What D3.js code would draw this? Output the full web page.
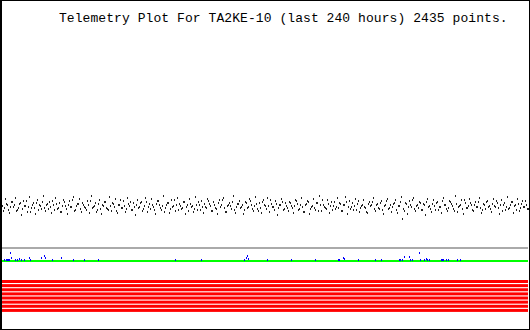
<!DOCTYPE html>
<html>
<head>
<meta charset="utf-8">
<script src="https://cdn.jsdelivr.net/npm/d3@7"></script>
<style>
  body { margin: 0; background: #fff; }
  svg { display: block; }
</style>
</head>
<body>
<div id="chart"></div>
<script>
const title = "Telemetry Plot For TA2KE-10 (last 240 hours) 2435 points.";

// analog channel 1 (black), samples on even columns, units on 0..240 scale
const chanA = [
  56,54,58,52,55,60,57,51,54,59,53,56,61,55,50,57,54,59,52,56,60,54,57,53,
  55,61,52,58,54,50,56,60,53,57,55,62,51,56,58,53,59,55,52,57,61,54,56,50,
  58,53,57,60,54,52,56,59,55,51,57,62,54,56,53,58,60,52,55,57,54,59,51,56,
  60,55,53,57,52,58,61,54,56,50,57,59,53,55,62,57,52,56,54,60,55,51,58,56,
  53,57,60,52,55,58,54,61,56,51,57,53,59,55,62,54,50,57,56,60,52,55,58,54,
  57,52,59,55,61,53,56,58,51,54,60,57,53,56,62,55,52,58,54,57,60,53,56,51,
  59,54,56,61,52,57,55,50,58,60,53,56,54,59,51,57,62,55,53,58,56,52,60,55,
  54,58,51,57,60,55,53,59,56,52,61,54,57,55,50,58,56,60,53,57,54,59,52,56,
  61,53,57,55,59,52,56,60,43,51,58,55,57,62,53,56,54,59,52,57,60,55,53,58,
  56,59,52,55,61,57,53,54,60,56,51,58,55,57,53,62,54,56,59,52,57,55,60,54,
  52,57,60,55,53,58,56,61,54,57,51,59,55,53,57,60,56,52,58,54,61,55,57,53
];

// second pass of the same channel on odd columns
const chanA2 = [
  51,63,57,49,60,55,64,52,58,47,61,56,50,65,54,59,48,62,57,53,66,51,58,60,
  49,57,64,53,59,50,62,56,48,61,55,65,52,58,63,50,57,54,61,49,66,55,59,52,
  62,48,56,60,53,65,51,58,63,49,57,54,61,50,64,56,52,59,47,62,55,60,53,64,
  50,58,63,55,48,61,57,52,66,54,59,49,62,56,51,64,58,53,60,48,57,63,55,50,
  65,52,57,61,49,55,63,58,51,60,54,48,62,57,64,50,56,59,53,66,49,58,61,55,
  48,60,54,63,57,51,65,53,59,49,62,56,64,50,58,55,61,47,57,63,52,59,54,60,
  56,49,62,58,53,64,50,57,61,48,55,63,52,59,66,51,57,54,62,49,60,56,53,64,
  59,51,57,65,48,61,55,52,63,58,50,56,62,54,49,60,57,64,51,58,53,61,48,57,
  63,54,50,58,62,49,56,65,53,59,48,61,55,64,51,57,60,52,58,47,63,56,50,62,
  52,60,55,49,64,57,51,61,58,53,66,50,56,62,48,59,54,63,57,51,60,55,64,49,
  58,53,61,56,50,63,55,59,48,62,57,52,65,54,60,49,57,63,51,58,55,61,53
];

// analog channel 2 (blue): [hour, value] where it rises above zero
const chanB = [
  [1.0,2],[1.9,2],[2.4,2],[2.8,2],[3.3,2],[3.8,9],[4.2,4],[5.8,2],[6.9,2],
  [7.8,3],[8.7,2],[10.0,2],[12.2,4],[12.7,2],[17.8,4],[19.0,6],[19.6,4],
  [22.7,2],[27.1,4],[32.5,2],[37.3,2],[43.6,2],[79.0,2],[91.0,2],[110.5,2],
  [111.4,4],[111.9,6],[112.4,3],[121.0,2],[132.0,2],[143.0,2],[153.2,2],
  [153.8,2],[155.4,4],[155.9,3],[162.5,2],[170.0,2],[172.9,2],[181.0,2],
  [181.8,2],[182.5,2],[183.6,5],[185.6,5],[186.2,2],[187.3,2],[190.4,9],
  [190.8,2],[192.4,2],[193.3,3],[193.8,2],[195.0,2],[200.3,2],[200.8,2],
  [201.4,2],[202.4,2],[203.7,2],[207.5,2],[208.8,2]
];

const greyLevel = 13;   // reference level
const greenLevel = 0;   // baseline
const bits = ["b7","b6","b5","b4","b3","b2","b1","b0"];

const W = 530, H = 330;
const svg = d3.select("#chart").append("svg")
  .attr("width", W)
  .attr("height", H);

// x: sample index / hours
const xi = d3.scaleLinear().domain([0, chanA.length - 1]).range([2, 528]);
const xi2 = d3.scaleLinear().domain([0, chanA2.length - 1]).range([3, 527]);
const xh = d3.scaleLinear().domain([0, 240]).range([2, 528]);
// y for analog channels
const y = d3.scaleLinear().domain([0, 240]).range([261, 21]);
// bit rows
const yb = d3.scaleBand().domain(bits).range([280, 312]).paddingInner(0.25).paddingOuter(0);

// bit rows (red)
svg.selectAll("rect.bit")
  .data(bits)
  .enter().append("rect")
    .attr("class", "bit")
    .attr("x", xh(0))
    .attr("width", xh(240) - xh(0))
    .attr("y", d => yb(d))
    .attr("height", 3)
    .attr("fill", "#ff0000");

// reference lines
svg.append("line")
  .attr("x1", xh(0)).attr("x2", xh(240))
  .attr("y1", y(greyLevel)).attr("y2", y(greyLevel))
  .attr("stroke", "#aaaaaa").attr("stroke-width", 2);

svg.append("line")
  .attr("x1", xh(0)).attr("x2", xh(240))
  .attr("y1", y(greenLevel)).attr("y2", y(greenLevel))
  .attr("stroke", "#00ff00").attr("stroke-width", 2);

// channel A dots
svg.selectAll("rect.a")
  .data(chanA)
  .enter().append("rect")
    .attr("class", "a")
    .attr("x", (d, i) => Math.round(xi(i)))
    .attr("y", d => Math.round(y(d)))
    .attr("width", 1)
    .attr("height", 2)
    .attr("fill", "#222");

svg.selectAll("rect.a2")
  .data(chanA2)
  .enter().append("rect")
    .attr("class", "a2")
    .attr("x", (d, i) => Math.round(xi2(i)))
    .attr("y", d => Math.round(y(d)))
    .attr("width", 1)
    .attr("height", 2)
    .attr("fill", "#222");

// channel B dots
svg.selectAll("rect.b")
  .data(chanB)
  .enter().append("rect")
    .attr("class", "b")
    .attr("x", d => Math.round(xh(d[0])))
    .attr("y", d => Math.round(y(d[1])))
    .attr("width", 1)
    .attr("height", 2)
    .attr("fill", "#0000ff");

// frame
svg.append("rect")
  .attr("x", 0.5).attr("y", 0.5)
  .attr("width", W - 1).attr("height", H - 1)
  .attr("fill", "none").attr("stroke", "#000");
svg.append("line")
  .attr("x1", 1.5).attr("x2", 1.5).attr("y1", 0).attr("y2", H)
  .attr("stroke", "#000");

svg.append("text")
  .attr("x", 59)
  .attr("y", 22)
  .style("font-family", "'Liberation Mono', monospace")
  .style("font-size", "13px")
  .style("letter-spacing", "0.07px")
  .attr("fill", "#000")
  .text(title);
</script>
</body>
</html>
